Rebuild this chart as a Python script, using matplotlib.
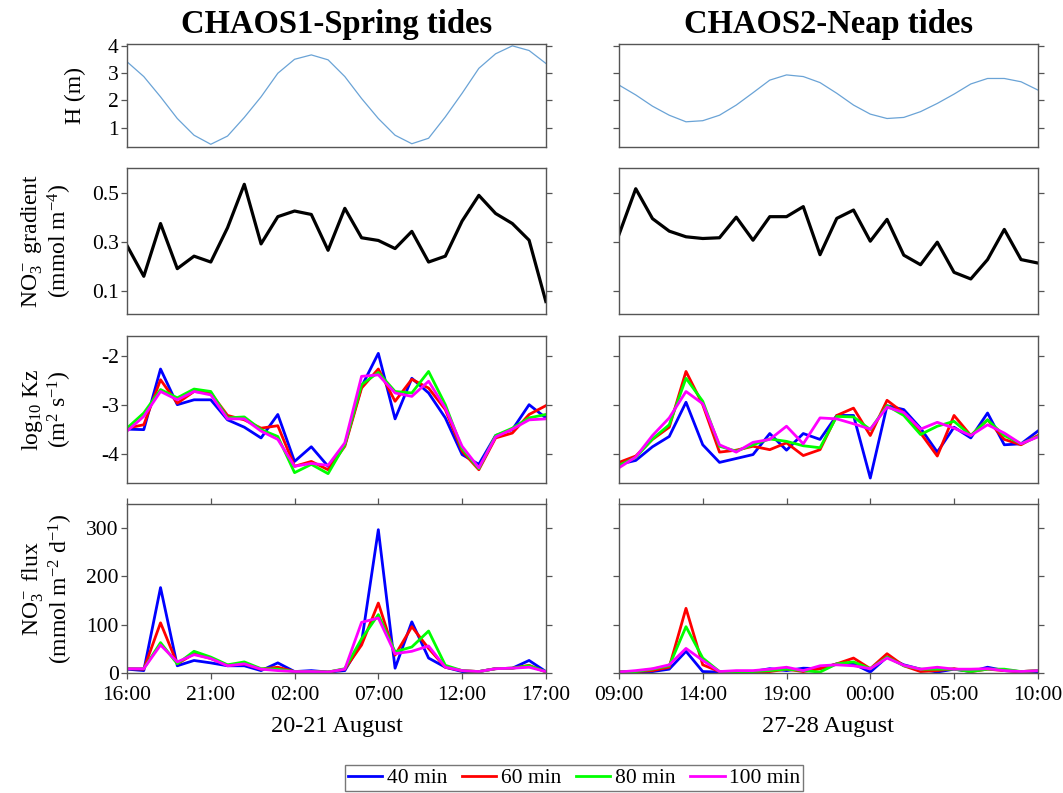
import numpy as np
import matplotlib as mpl
mpl.use("Agg")
import matplotlib.pyplot as plt

plt.rcParams["font.family"] = ["Liberation Serif", "DejaVu Serif"]
plt.rcParams["mathtext.fontset"] = "custom"
plt.rcParams["mathtext.rm"] = "Liberation Serif"
plt.rcParams["mathtext.it"] = "Liberation Serif:italic"
plt.rcParams["axes.unicode_minus"] = False

# hourly samples, 25 h per campaign
hours = np.arange(26)
tick_hours = [0, 5, 10, 15, 20, 25]
ticks_c1 = ["16:00", "21:00", "02:00", "07:00", "12:00", "17:00"]
ticks_c2 = ["09:00", "14:00", "19:00", "00:00", "05:00", "10:00"]
dates_c1 = "20-21 August"
dates_c2 = "27-28 August"
titles = ["CHAOS1-Spring tides", "CHAOS2-Neap tides"]
windows = ["40 min", "60 min", "80 min", "100 min"]

# water height (m)
h_c1 = [3.41, 2.87, 2.13, 1.34, 0.73, 0.40, 0.70, 1.38, 2.13, 2.99, 3.50, 3.66, 3.48,
        2.87, 2.07, 1.34, 0.73, 0.42, 0.62, 1.40, 2.26, 3.17, 3.70, 3.99, 3.82, 3.35]
h_c2 = [2.56, 2.20, 1.79, 1.46, 1.22, 1.26, 1.46, 1.83, 2.28, 2.74, 2.93, 2.87, 2.65,
        2.26, 1.83, 1.50, 1.34, 1.38, 1.59, 1.89, 2.23, 2.60, 2.80, 2.80, 2.68, 2.38]

# nitrate gradient (mmol m-4)
grad_c1 = [0.284, 0.159, 0.374, 0.190, 0.241, 0.217, 0.357, 0.534, 0.291, 0.402, 0.425, 0.411, 0.265,
           0.436, 0.316, 0.305, 0.272, 0.342, 0.217, 0.241, 0.384, 0.489, 0.415, 0.374, 0.306, 0.056]
grad_c2 = [0.329, 0.516, 0.394, 0.343, 0.320, 0.313, 0.316, 0.400, 0.306, 0.402, 0.402, 0.443, 0.247,
           0.395, 0.429, 0.302, 0.391, 0.245, 0.206, 0.298, 0.175, 0.148, 0.227, 0.350, 0.227, 0.213]

# log10 Kz for each averaging window
kz_c1 = [
    [-3.50, -3.51, -2.27, -3.00, -2.90, -2.90, -3.31, -3.46, -3.68, -3.20, -4.16, -3.86, -4.26,
     -3.82, -2.63, -1.95, -3.29, -2.46, -2.76, -3.27, -4.02, -4.22, -3.63, -3.51, -3.00, -3.27],
    [-3.48, -3.41, -2.49, -2.97, -2.73, -2.76, -3.22, -3.31, -3.48, -3.43, -4.26, -4.16, -4.33,
     -3.85, -2.66, -2.27, -2.93, -2.48, -2.66, -3.10, -3.95, -4.33, -3.68, -3.58, -3.20, -3.02],
    [-3.48, -3.17, -2.69, -2.86, -2.68, -2.73, -3.27, -3.25, -3.51, -3.65, -4.39, -4.22, -4.41,
     -3.82, -2.59, -2.34, -2.73, -2.76, -2.32, -3.00, -3.90, -4.31, -3.63, -3.48, -3.27, -3.20],
    [-3.54, -3.24, -2.73, -2.90, -2.73, -2.80, -3.29, -3.29, -3.54, -3.71, -4.26, -4.20, -4.24,
     -3.78, -2.42, -2.39, -2.76, -2.83, -2.52, -3.07, -3.85, -4.29, -3.66, -3.50, -3.31, -3.29],
]
kz_c2 = [
    [-4.22, -4.14, -3.86, -3.65, -2.95, -3.82, -4.18, -4.10, -4.02, -3.59, -3.93, -3.59, -3.71,
     -3.22, -3.22, -4.50, -3.02, -3.10, -3.48, -3.97, -3.46, -3.68, -3.17, -3.82, -3.80, -3.54],
    [-4.18, -4.05, -3.71, -3.46, -2.32, -3.00, -3.97, -3.93, -3.85, -3.92, -3.78, -4.04, -3.92,
     -3.22, -3.07, -3.63, -2.91, -3.17, -3.58, -4.05, -3.22, -3.63, -3.31, -3.71, -3.82, -3.63],
    [-4.24, -4.08, -3.70, -3.41, -2.46, -2.93, -3.85, -3.95, -3.82, -3.70, -3.75, -3.84, -3.88,
     -3.24, -3.25, -3.51, -3.02, -3.22, -3.61, -3.44, -3.34, -3.63, -3.31, -3.63, -3.80, -3.65],
    [-4.29, -4.07, -3.63, -3.27, -2.73, -2.98, -3.82, -3.97, -3.77, -3.71, -3.44, -3.80, -3.27,
     -3.29, -3.39, -3.50, -3.05, -3.16, -3.50, -3.36, -3.48, -3.63, -3.41, -3.58, -3.80, -3.66],
]

# nitrate flux (mmol m-2 d-1)
flux_c1 = [
    [8, 5, 177, 15, 26, 21, 15, 15, 5, 21, 3, 5, 2, 5, 64, 297, 10, 106, 31, 12, 3, 3, 9, 10, 26, 3],
    [9, 8, 104, 19, 40, 30, 16, 19, 8, 12, 3, 3, 2, 8, 58, 145, 37, 96, 51, 12, 5, 3, 9, 10, 16, 2],
    [9, 9, 63, 19, 45, 33, 17, 23, 9, 8, 3, 3, 2, 9, 71, 121, 44, 54, 87, 16, 5, 3, 9, 10, 15, 3],
    [9, 9, 58, 23, 38, 30, 15, 19, 8, 5, 3, 3, 2, 8, 105, 114, 40, 45, 56, 12, 5, 3, 9, 10, 12, 3],
]
flux_c2 = [
    [2, 3, 3, 8, 45, 3, 2, 3, 3, 9, 5, 10, 9, 19, 19, 2, 33, 17, 8, 2, 8, 3, 12, 5, 3, 3],
    [2, 3, 5, 12, 134, 17, 3, 3, 3, 3, 8, 3, 9, 19, 31, 9, 40, 15, 3, 5, 9, 3, 8, 5, 3, 5],
    [2, 3, 8, 15, 96, 31, 3, 3, 3, 5, 8, 5, 2, 19, 23, 9, 33, 15, 8, 8, 8, 3, 8, 8, 3, 5],
    [2, 5, 9, 17, 51, 26, 3, 5, 5, 8, 12, 5, 15, 17, 15, 9, 31, 16, 8, 12, 8, 8, 9, 5, 3, 5],
]

colors = ["#0000ff", "#ff0000", "#00ff00", "#ff00ff"]
spine_col = "#555555"

fig = plt.figure(figsize=(10.63, 7.93), dpi=100)

lefts = [0.1195, 0.5823]
width = 0.394
rows = [(0.8146, 0.130), (0.604, 0.184), (0.391, 0.185), (0.1513, 0.213)]

axes = [[fig.add_axes([l, b, width, h]) for l in lefts] for (b, h) in rows]

for col in range(2):
    h = [h_c1, h_c2][col]
    grad = [grad_c1, grad_c2][col]
    kz = [kz_c1, kz_c2][col]
    flux = [flux_c1, flux_c2][col]

    ax = axes[0][col]
    ax.plot(hours, h, color="#6aa3d6", lw=0.9)
    ax.set_ylim(0.3, 4.06)
    ax.set_yticks([1, 2, 3, 4])
    ax.set_title(titles[col], fontsize=23.5, fontweight="bold", pad=8)

    ax = axes[1][col]
    ax.plot(hours, grad, color="black", lw=2.3)
    ax.set_ylim(0.005, 0.6)
    ax.set_yticks([0.1, 0.3, 0.5])

    ax = axes[2][col]
    for series, c in zip(kz, colors):
        ax.plot(hours, series, color=c, lw=2.0)
    ax.set_ylim(-4.6, -1.6)
    ax.set_yticks([-4, -3, -2])

    ax = axes[3][col]
    lines = []
    for series, c, lab in zip(flux, colors, windows):
        ln, = ax.plot(hours, series, color=c, lw=2.0, label=lab)
        lines.append(ln)
    ax.set_ylim(0, 350)
    ax.set_yticks([0, 100, 200, 300])
    ax.set_xticks(tick_hours)
    ax.set_xticklabels([ticks_c1, ticks_c2][col])
    ax.set_xlabel([dates_c1, dates_c2][col], fontsize=17.5, labelpad=8)
    ax.tick_params(axis="x", top=True, pad=5)

    for r in range(4):
        ax = axes[r][col]
        ax.set_xlim(0, 25)
        if r < 3:
            ax.set_xticks([])
        ax.tick_params(axis="y", right=True, pad=2)
        ax.tick_params(direction="out", length=4, width=0.9, color=spine_col,
                       labelsize=15.5)
        for sp in ax.spines.values():
            sp.set_color(spine_col)
            sp.set_linewidth(1.0)
        if col == 1:
            ax.set_yticklabels([])

ylabels = ["H (m)",
           "NO$_3^-$ gradient\n(mmol m$^{-4}$)",
           "log$_{10}$ Kz\n(m$^2$ s$^{-1}$)",
           "NO$_3^-$ flux\n(mmol m$^{-2}$ d$^{-1}$)"]
label_x = [-0.098, -0.126, -0.126, -0.124]
for r in range(4):
    axes[r][0].set_ylabel(ylabels[r], fontsize=17, linespacing=1.05)
    axes[r][0].yaxis.set_label_coords(label_x[r], 0.5)

fig.legend(lines, windows, loc="center", bbox_to_anchor=(574 / 1063, 1 - 778 / 793),
           ncol=4, fontsize=15.5, frameon=True, fancybox=False, edgecolor=spine_col,
           handlelength=1.6, handletextpad=0.2, columnspacing=0.7,
           borderpad=0.15, borderaxespad=0)

fig.savefig("out.png", dpi=100)
